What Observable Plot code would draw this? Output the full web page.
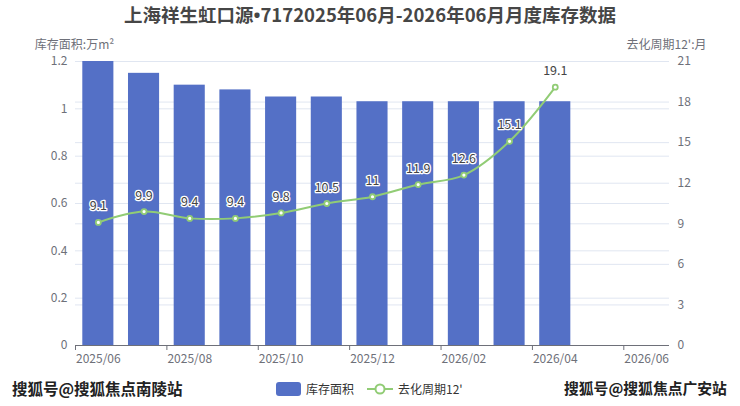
<!DOCTYPE html>
<html><head><meta charset="utf-8">
<script src="https://cdn.jsdelivr.net/npm/d3@7"></script>
<script src="https://cdn.jsdelivr.net/npm/@observablehq/plot@0.6"></script>
<style>
body{margin:0;background:#fff;font-family:"Noto Sans CJK SC","Noto Sans",sans-serif;}
#wrap{position:relative;width:740px;height:406px;overflow:hidden;}
#title{height:30px;line-height:28px;text-align:center;font-size:18.5px;font-weight:bold;color:#464646;white-space:nowrap;}
#title .b{font-family:"Noto Sans",sans-serif;}
#foot{position:relative;height:36px;}
.wm{position:absolute;top:7px;font-weight:600;color:#222;white-space:nowrap;text-shadow:0 0 2px #fff,0 0 2px #fff;}
.lg{position:absolute;top:10px;font-size:12px;color:#333;display:flex;align-items:center;white-space:nowrap;}
</style></head>
<body><div id="wrap">
<div id="title">上海祥生虹口源<span class="b">•</span>7172025年06月-2026年06月月度库存数据</div>
<div id="chart"></div>
<div id="foot">
  <div class="wm" style="left:12px;font-size:15.5px">搜狐号@搜狐焦点南陵站</div>
  <div class="wm" style="left:564px;font-size:14.8px">搜狐号@搜狐焦点广安站</div>
  <div class="lg" style="left:276px"><svg width="25" height="14"><rect x="0" y="0" width="25" height="14" rx="3" fill="#5470c6"/></svg><span style="margin-left:5px">库存面积</span></div>
  <div class="lg" style="left:367px"><svg width="26" height="14"><line x1="0" y1="7" x2="26" y2="7" stroke="#91cc75" stroke-width="2"/><circle cx="13" cy="7" r="4.5" fill="#fff" stroke="#91cc75" stroke-width="2"/></svg><span style="margin-left:5px">去化周期12'</span></div>
</div>
</div>
<script>
const months = ["2025/06","2025/07","2025/08","2025/09","2025/10","2025/11","2025/12","2026/01","2026/02","2026/03","2026/04","2026/05","2026/06"];
const area = [1.2,1.15,1.1,1.08,1.05,1.05,1.03,1.03,1.03,1.03,1.03];
const cycle = [9.1,9.9,9.4,9.4,9.8,10.5,11,11.9,12.6,15.1,19.1];
const leftTicks = [0,0.2,0.4,0.6,0.8,1,1.2];
const rightTicks = [0,3,6,9,12,15,18,21];

const k = 1.2/21;
const data = area.map((a,i)=>({i, month: months[i], area: a, cycle: cycle[i]}));
const axisColor = "#6e7079";
const gridColor = "#e0e6f1";

const chart = Plot.plot({
  width: 740, height: 340,
  marginTop: 31, marginBottom: 25, marginLeft: 75, marginRight: 71,
  style: {fontFamily: '"Noto Sans CJK SC","Noto Sans",sans-serif', fontSize: "12px", color: axisColor},
  x: {type: "linear", domain: [0, months.length], axis: null},
  y: {domain: [0, 1.2], axis: null},
  marks: [
    Plot.ruleY(leftTicks, {stroke: gridColor}),
    Plot.ruleY(rightTicks.map(v=>v*k), {stroke: gridColor}),
    Plot.rectY(data, {x1: d=>d.i, x2: d=>d.i+1, y: "area", insetLeft: 7.3, insetRight: 7.3, fill: "#5470c6"}),
    Plot.ruleY([0], {stroke: axisColor}),
    Plot.axisX({ticks: d3.range(0, months.length+1, 2), tickFormat: ()=>"", tickSize: 5, stroke: axisColor}),
    Plot.axisX({ticks: d3.range(0, months.length, 2).map(i=>i+0.5), tickFormat: v=>months[Math.round(v-0.5)], tickSize: 0, tickPadding: 9, fill: axisColor, label: null}),
    Plot.axisY({ticks: leftTicks, tickSize: 0, tickPadding: 8, tickFormat: v=>String(+v.toFixed(1)), fill: axisColor, label: null}),
    Plot.axisY({anchor: "right", ticks: rightTicks.map(v=>v*k), tickSize: 0, tickPadding: 8, tickFormat: v=>String(Math.round(v/k)), fill: axisColor, label: null}),
    Plot.line(data, {x: d=>d.i+0.5, y: d=>d.cycle*k, stroke: "#91cc75", strokeWidth: 2, curve: "catmull-rom"}),
    Plot.dot(data, {x: d=>d.i+0.5, y: d=>d.cycle*k, r: 2.5, fill: "#fff", stroke: "#91cc75", strokeWidth: 1.8}),
    Plot.text(data, {x: d=>d.i+0.5, y: d=>d.cycle*k, text: d=>String(d.cycle), dy: -16, fill: "#444", stroke: "#fff", strokeWidth: 2.5, fontSize: 12.5}),
    Plot.text(["库存面积:万m²"], {frameAnchor: "top-left", dx: -1, dy: -21, textAnchor: "middle", fill: axisColor, fontSize: 12}),
    Plot.text(["去化周期12':月"], {frameAnchor: "top-right", dx: -3, dy: -21, textAnchor: "middle", fill: axisColor, fontSize: 12})
  ]
});
document.getElementById("chart").appendChild(chart);
</script>
</body></html>
